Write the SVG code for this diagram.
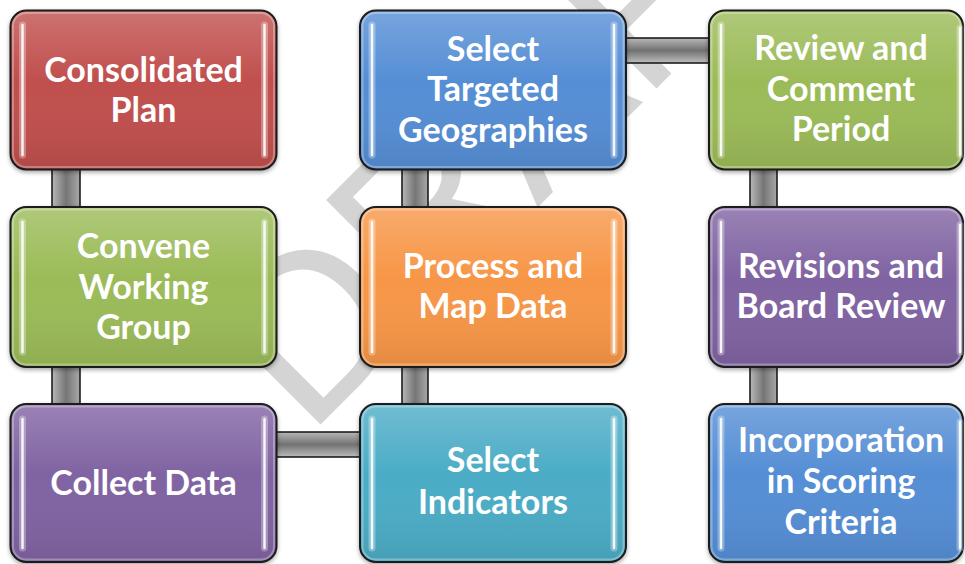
<svg xmlns="http://www.w3.org/2000/svg" width="965" height="564" viewBox="0 0 965 564">
<defs>
<linearGradient id="barH" x1="0" y1="0" x2="0" y2="1">
<stop offset="0" stop-color="#b8b8b8"/><stop offset="0.5" stop-color="#727272"/><stop offset="1" stop-color="#bdbdbd"/>
</linearGradient>
<linearGradient id="barV" x1="0" y1="0" x2="1" y2="0">
<stop offset="0" stop-color="#b8b8b8"/><stop offset="0.5" stop-color="#767676"/><stop offset="1" stop-color="#a8a8a8"/>
</linearGradient>
<linearGradient id="gloss" x1="0" y1="0" x2="0" y2="1">
<stop offset="0" stop-color="#fff" stop-opacity="0.2"/><stop offset="0.45" stop-color="#fff" stop-opacity="0"/><stop offset="1" stop-color="#000" stop-opacity="0.08"/>
</linearGradient>
<filter id="sh" x="-10%" y="-10%" width="120%" height="130%">
<feDropShadow dx="0" dy="2" stdDeviation="2" flood-color="#000" flood-opacity="0.35"/>
</filter>
</defs>
<style>
.wm{font-family:"Liberation Sans",Arial,sans-serif;font-size:225px;fill:#d4d4d4}
.bar{stroke:#111;stroke-width:1.5}
.bh{fill:url(#barH)}
.bv{fill:url(#barV)}
.box{stroke:#1a1a1a;stroke-width:2;filter:url(#sh)}
.gl{fill:url(#gloss)}
.bev{fill:none;stroke:#fff;stroke-opacity:0.3;stroke-width:2}
.hlg{stroke:#fff;stroke-width:7;stroke-linecap:round;opacity:0.3}
.hl{stroke:#fff;stroke-width:2.5;stroke-linecap:round;opacity:0.9}
.lbl{font-family:Lato,"Open Sans",sans-serif;font-weight:700;font-size:34px;fill:#fff;text-anchor:middle}
.red{fill:#c0504d}.green{fill:#9bbb59}.purple{fill:#8064a2}.cyan{fill:#4bacc6}.orange{fill:#f79646}.blue{fill:#558ed5}
</style>
<rect width="965" height="564" fill="#fff"/>
<text class="wm" transform="translate(307.5,437.5) rotate(-45)">DRAFT</text>
<g id="connectors">
<rect class="bar bv" x="52" y="168" width="28" height="42"/>
<rect class="bar bv" x="52" y="365" width="28" height="42"/>
<rect class="bar bh" x="275" y="432" width="87" height="25"/>
<rect class="bar bv" x="402" y="365" width="26" height="42"/>
<rect class="bar bv" x="402" y="168" width="26" height="42"/>
<rect class="bar bh" x="624" y="38" width="87" height="25"/>
<rect class="bar bv" x="750" y="168" width="27" height="42"/>
<rect class="bar bv" x="750" y="365" width="27" height="42"/>
</g>
<g id="n1">
<rect class="box red" x="10.5" y="10.5" width="266" height="159" rx="16"/>
<rect class="gl" x="11.5" y="11.5" width="264" height="157" rx="15"/>
<rect class="bev" x="13" y="13" width="261" height="154" rx="13"/>
<line class="hlg" x1="22.5" y1="25" x2="22.5" y2="155"/><line class="hl" x1="22.5" y1="25" x2="22.5" y2="155"/>
<line class="hlg" x1="264.5" y1="25" x2="264.5" y2="155"/><line class="hl" x1="264.5" y1="25" x2="264.5" y2="155"/>
<text class="lbl" x="143.5" y="81.5">Consolidated</text>
<text class="lbl" x="143.5" y="122">Plan</text>
</g>
<g id="n2">
<rect class="box green" x="10.5" y="207" width="266" height="160" rx="16"/>
<rect class="gl" x="11.5" y="208" width="264" height="158" rx="15"/>
<rect class="bev" x="13" y="209.5" width="261" height="155" rx="13"/>
<line class="hlg" x1="22.5" y1="222" x2="22.5" y2="352"/><line class="hl" x1="22.5" y1="222" x2="22.5" y2="352"/>
<line class="hlg" x1="264.5" y1="222" x2="264.5" y2="352"/><line class="hl" x1="264.5" y1="222" x2="264.5" y2="352"/>
<text class="lbl" x="143.5" y="258">Convene</text>
<text class="lbl" x="143.5" y="298.5">Working</text>
<text class="lbl" x="143.5" y="339">Group</text>
</g>
<g id="n3">
<rect class="box purple" x="10.5" y="404" width="266" height="158" rx="16"/>
<rect class="gl" x="11.5" y="405" width="264" height="156" rx="15"/>
<rect class="bev" x="13" y="406.5" width="261" height="153" rx="13"/>
<line class="hlg" x1="22.5" y1="419" x2="22.5" y2="548"/><line class="hl" x1="22.5" y1="419" x2="22.5" y2="548"/>
<line class="hlg" x1="264.5" y1="419" x2="264.5" y2="548"/><line class="hl" x1="264.5" y1="419" x2="264.5" y2="548"/>
<text class="lbl" x="143.5" y="495">Collect Data</text>
</g>
<g id="n4">
<rect class="box cyan" x="360" y="404" width="266" height="158" rx="16"/>
<rect class="gl" x="361" y="405" width="264" height="156" rx="15"/>
<rect class="bev" x="362.5" y="406.5" width="261" height="153" rx="13"/>
<line class="hlg" x1="372" y1="419" x2="372" y2="548"/><line class="hl" x1="372" y1="419" x2="372" y2="548"/>
<line class="hlg" x1="614" y1="419" x2="614" y2="548"/><line class="hl" x1="614" y1="419" x2="614" y2="548"/>
<text class="lbl" x="493" y="472">Select</text>
<text class="lbl" x="493" y="514">Indicators</text>
</g>
<g id="n5">
<rect class="box orange" x="360" y="207" width="266" height="160" rx="16"/>
<rect class="gl" x="361" y="208" width="264" height="158" rx="15"/>
<rect class="bev" x="362.5" y="209.5" width="261" height="155" rx="13"/>
<line class="hlg" x1="372" y1="222" x2="372" y2="352"/><line class="hl" x1="372" y1="222" x2="372" y2="352"/>
<line class="hlg" x1="614" y1="222" x2="614" y2="352"/><line class="hl" x1="614" y1="222" x2="614" y2="352"/>
<text class="lbl" x="493" y="277.5">Process and</text>
<text class="lbl" x="493" y="318">Map Data</text>
</g>
<g id="n6">
<rect class="box blue" x="360" y="10.5" width="266" height="159" rx="16"/>
<rect class="gl" x="361" y="11.5" width="264" height="157" rx="15"/>
<rect class="bev" x="362.5" y="13" width="261" height="154" rx="13"/>
<line class="hlg" x1="372" y1="25" x2="372" y2="155"/><line class="hl" x1="372" y1="25" x2="372" y2="155"/>
<line class="hlg" x1="614" y1="25" x2="614" y2="155"/><line class="hl" x1="614" y1="25" x2="614" y2="155"/>
<text class="lbl" x="493" y="60.5">Select</text>
<text class="lbl" x="493" y="101">Targeted</text>
<text class="lbl" x="493" y="141.5">Geographies</text>
</g>
<g id="n7">
<rect class="box green" x="709" y="10.5" width="254" height="159" rx="16"/>
<rect class="gl" x="710" y="11.5" width="252" height="157" rx="15"/>
<rect class="bev" x="711.5" y="13" width="249" height="154" rx="13"/>
<line class="hlg" x1="721" y1="25" x2="721" y2="155"/><line class="hl" x1="721" y1="25" x2="721" y2="155"/>
<line class="hlg" x1="960" y1="28" x2="960" y2="155"/><line class="hl" x1="960" y1="28" x2="960" y2="155"/>
<text class="lbl" x="841" y="60">Review and</text>
<text class="lbl" x="841" y="100.5">Comment</text>
<text class="lbl" x="841" y="141">Period</text>
</g>
<g id="n8">
<rect class="box purple" x="709" y="207" width="254" height="160" rx="16"/>
<rect class="gl" x="710" y="208" width="252" height="158" rx="15"/>
<rect class="bev" x="711.5" y="209.5" width="249" height="155" rx="13"/>
<line class="hlg" x1="721" y1="222" x2="721" y2="352"/><line class="hl" x1="721" y1="222" x2="721" y2="352"/>
<line class="hlg" x1="960" y1="225" x2="960" y2="352"/><line class="hl" x1="960" y1="225" x2="960" y2="352"/>
<text class="lbl" x="841" y="277.5">Revisions and</text>
<text class="lbl" x="841" y="318">Board Review</text>
</g>
<g id="n9">
<rect class="box blue" x="709" y="404" width="254" height="158" rx="16"/>
<rect class="gl" x="710" y="405" width="252" height="156" rx="15"/>
<rect class="bev" x="711.5" y="406.5" width="249" height="153" rx="13"/>
<line class="hlg" x1="721" y1="419" x2="721" y2="548"/><line class="hl" x1="721" y1="419" x2="721" y2="548"/>
<line class="hlg" x1="960" y1="422" x2="960" y2="548"/><line class="hl" x1="960" y1="422" x2="960" y2="548"/>
<text class="lbl" x="841" y="452">Incorporation</text>
<text class="lbl" x="841" y="492.5">in Scoring</text>
<text class="lbl" x="841" y="533.5">Criteria</text>
</g>
</svg>
